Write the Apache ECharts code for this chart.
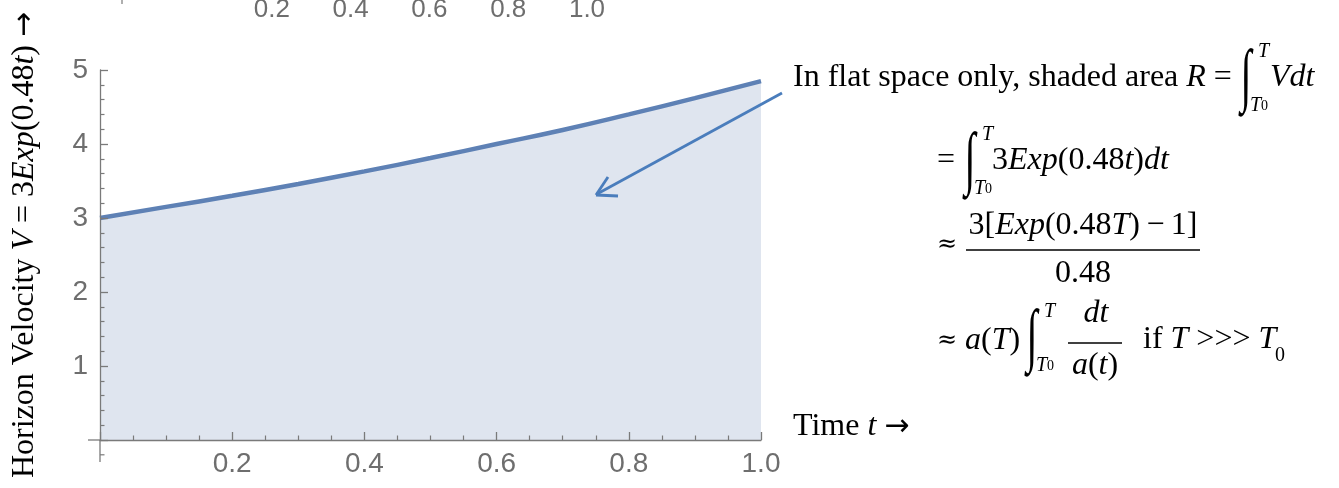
<!DOCTYPE html>
<html lang="en">
<head>
<meta charset="UTF-8">
<title>Horizon Velocity</title>
<style>
    body { margin: 0; background: #fff; }
    #chart { width: 1339px; height: 488px; }
</style>
</head>
<body>
<div id="chart"></div>
<script src="https://cdn.jsdelivr.net/npm/echarts@6/dist/echarts.min.js"></script>
<script>
    // values
    const times = [0, 0.1, 0.2, 0.3, 0.4, 0.5, 0.6, 0.7, 0.8, 0.9, 1.0];
    const velocity = [3.00, 3.15, 3.30, 3.46, 3.63, 3.81, 4.00, 4.19, 4.40, 4.62, 4.85];
    const xTickLabels = [0.2, 0.4, 0.6, 0.8, 1.0];
    const yTickLabels = [1, 2, 3, 4, 5];
    // labels of a cropped axis peeking in at the top edge
    const strayTickLabels = [0.2, 0.4, 0.6, 0.8, 1.0];

    const serif = '"Liberation Serif", "Times New Roman", serif';
    const sans = '"Liberation Sans", Arial, sans-serif';
    const axisGray = '#7a7a7a';
    const labelGray = '#6e6e6e';
    const curveBlue = '#5e81b5';
    const arrowBlue = '#4a7dbc';

    const rich = {
        n: { fontFamily: serif, fontSize: 32, color: '#000' },
        i: { fontFamily: serif, fontSize: 32, color: '#000', fontStyle: 'italic' },
        ap: { fontFamily: '"DejaVu Serif"', fontSize: 24, color: '#000' },
        ar: { fontFamily: '"DejaVu Sans"', fontSize: 30, color: '#000' },
        si: { fontFamily: serif, fontSize: 20, color: '#000', fontStyle: 'italic' },
        sn: { fontFamily: serif, fontSize: 14, color: '#000' },
        s0: { fontFamily: serif, fontSize: 20, color: '#000' },
        // axis title
        ti: { fontFamily: serif, fontSize: 32, color: '#000', fontStyle: 'italic' },
        tn: { fontFamily: serif, fontSize: 32, color: '#000' }
    };

    function text(x, y, str, align, size) {
        return {
            type: 'text', x: x, y: y, z: 100, silent: true,
            style: {
                text: str, rich: rich,
                fontFamily: serif, fontSize: size || 32, fill: '#000',
                align: align || 'left', verticalAlign: 'middle'
            }
        };
    }
    // integral sign with limits T0 .. T, left edge at x, line centre at y
    function integral(x, y) {
        const sign = text(x + 6, y + 2, '∫', 'center', 40);
        sign.scaleY = 1.75;
        sign.originX = 0;
        sign.originY = 0;
        return [
            sign,
            text(x + 18, y - 26, '{si|T}'),
            text(x + 10, y + 28, '{si|T}{sn|0}')
        ];
    }
    function line(x1, y1, x2, y2, color, width) {
        return {
            type: 'line', z: 100, silent: true,
            shape: { x1: x1, y1: y1, x2: x2, y2: y2 },
            style: { stroke: color, lineWidth: width }
        };
    }

    const chart = echarts.init(document.getElementById('chart'));

    const tickLabel = list => v => list.some(t => Math.abs(t - v) < 1e-6)
        ? (Number.isInteger(list[0]) ? String(v) : v.toFixed(1)) : '';

    const annotations = [].concat(
        [text(793, 78, 'In flat space only, shaded area {i|R} =')],
        integral(1240, 78),
        [text(1270, 78, '{i|Vdt}')],

        [text(937, 161, '=')],
        integral(964, 161),
        [text(992, 161, '3{i|Exp}(0.48{i|t}){i|dt}')],

        [text(937, 245, '{ap|≈}'),
         text(1083, 226, '3[{i|Exp}(0.48{i|T})\u2009−\u20091]', 'center'),
         line(966, 250, 1200, 250, '#000', 1.3),
         text(1083, 274, '0.48', 'center')],

        [text(937, 341, '{ap|≈} {i|a}({i|T})')],
        integral(1026, 338),
        [text(1096, 314, '{i|dt}', 'center'),
         line(1068, 343, 1122, 343, '#000', 1.3),
         text(1095, 366, '{i|a}({i|t})', 'center'),
         text(1143, 340, 'if {i|T} >>> {i|T}'),
         text(1275, 356, '{s0|0}')],

        [text(793, 427, 'Time {i|t} {ar|→}')],

        // vertical axis title
        [{
            type: 'text', x: 25, y: 245, rotation: Math.PI / 2, z: 100, silent: true,
            style: {
                text: '{tn|Horizon Velocity }{ti|V}{tn| = 3}{ti|Exp}{tn|(0.48}{ti|t}{tn|) }{ar|→}',
                rich: rich, align: 'center', verticalAlign: 'middle'
            }
        }],

        // annotation arrow into the shaded area
        [line(782, 93, 597, 194, arrowBlue, 2.8),
         line(596, 195, 608, 177, arrowBlue, 2.8),
         line(596, 195, 618, 196, arrowBlue, 2.8)],

        // tiny tick of the cropped chart above
        [line(122, 0, 122, 4, axisGray, 1.2)]
    );

    const option = {
        animation: false,
        backgroundColor: '#fff',
        grid: [
            { left: 100, right: 578, top: 70, bottom: 48 },
            { left: 193, width: 394, top: -60, height: 50 }
        ],
        xAxis: [
            {
                type: 'value', gridIndex: 0, min: 0, max: 1, interval: 0.2, z: 10,
                splitLine: { show: false },
                axisLine: { lineStyle: { color: axisGray, width: 1.3 } },
                axisTick: { inside: true, length: 8, lineStyle: { color: axisGray, width: 1.3 } },
                minorTick: { show: true, splitNumber: 4, length: 4.5, lineStyle: { color: axisGray, width: 1.2 } },
                axisLabel: {
                    formatter: tickLabel(xTickLabels), margin: 10,
                    color: labelGray, fontFamily: sans, fontSize: 28, showMaxLabel: true
                }
            },
            {
                type: 'value', gridIndex: 1, min: 0, max: 1, interval: 0.2,
                splitLine: { show: false },
                axisLine: { show: false },
                axisTick: { show: false },
                axisLabel: {
                    formatter: tickLabel(strayTickLabels), margin: -6,
                    color: labelGray, fontFamily: sans, fontSize: 26
                }
            }
        ],
        yAxis: [
            {
                type: 'value', gridIndex: 0, min: 0, max: 5, interval: 1, z: 10,
                splitLine: { show: false },
                axisLine: { lineStyle: { color: axisGray, width: 1.3 } },
                axisTick: { inside: true, length: 8, lineStyle: { color: axisGray, width: 1.3 } },
                minorTick: { show: true, splitNumber: 5, length: 4.5, lineStyle: { color: axisGray, width: 1.2 } },
                axisLabel: {
                    formatter: tickLabel(yTickLabels), margin: 12,
                    color: labelGray, fontFamily: sans, fontSize: 28
                }
            },
            {
                type: 'value', gridIndex: 1, min: 0, max: 1, show: false
            }
        ],
        series: [
            {
                type: 'line',
                xAxisIndex: 0, yAxisIndex: 0,
                data: times.map((t, k) => [t, velocity[k]]),
                smooth: true,
                showSymbol: false,
                lineStyle: { color: curveBlue, width: 4.5 },
                areaStyle: { color: '#dfe5ef', opacity: 1 },
                z: 3
            },
            {
                type: 'line', xAxisIndex: 1, yAxisIndex: 1, data: []
            }
        ],
        graphic: annotations
    };

    chart.setOption(option);

    // Mathematica-style axes run a little past the origin
    const o = chart.convertToPixel({ gridIndex: 0 }, [0, 0]);
    const below = chart.convertToPixel({ gridIndex: 0 }, [0, -0.2]);
    chart.setOption({
        graphic: annotations.concat([
            line(o[0] - 12, o[1], o[0], o[1], axisGray, 1.3),
            line(o[0], o[1], o[0], o[1] + 22, axisGray, 1.3),
            line(o[0], below[1], o[0] + 4.5, below[1], axisGray, 1.2)
        ])
    });
</script>
</body>
</html>
